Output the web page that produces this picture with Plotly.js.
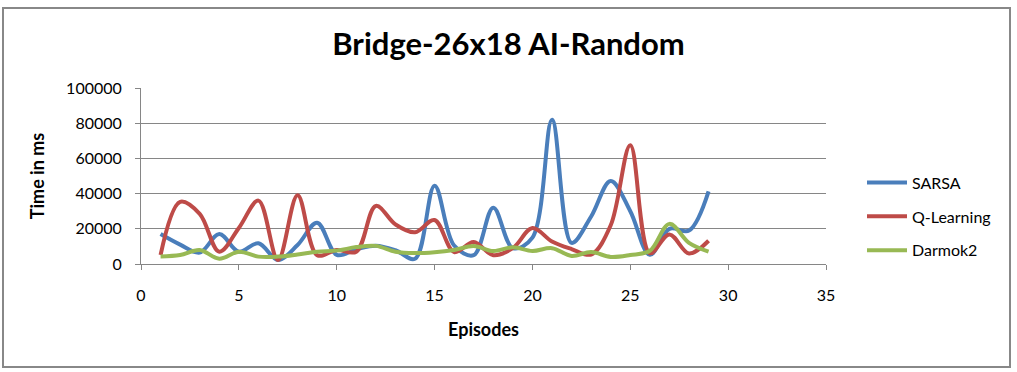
<!DOCTYPE html>
<html>
<head>
<meta charset="utf-8">
<script src="https://cdn.plot.ly/plotly-3.0.1.min.js"></script>
<style>
  html, body { margin: 0; padding: 0; background: #fff; }
  #chart { width: 1017px; height: 372px; }
</style>
</head>
<body>
<div id="chart"></div>
<script>
// Episode-by-episode run time (ms)
const episodes = [1,2,3,4,5,6,7,8,9,10,11,12,13,14,15,16,17,18,19,20,21,22,23,24,25,26,27,28,29];
const sarsa = [17000,11000,6500,17000,7000,11800,2300,10800,23500,5200,8300,10400,7800,3000,44500,10500,5000,32000,9000,15000,82000,12000,27000,47200,30000,5200,20000,19000,41300];
const qLearning = [5100,35300,28500,7000,20500,36000,2300,39000,5000,8000,7000,33000,22500,18000,25000,6800,12500,5000,9000,20400,12800,8500,5400,22000,67500,6100,16800,6000,13200];
const darmok2 = [4300,5100,8000,3000,7000,4200,4200,5400,7000,7600,9600,10300,7000,6200,6700,8000,10200,7400,9500,7400,9000,4600,6800,4000,5100,7500,22800,12000,7000];

const seriesNames = ["SARSA", "Q-Learning", "Darmok2"];
const seriesColors = ["#4A7EBB", "#BE4B48", "#98B954"];
const seriesValues = [sarsa, qLearning, darmok2];

const FONT = "Lato, Carlito, 'Liberation Sans', sans-serif";
const GRID = "#868686";

// one legend group per trace so tracegroupgap spaces the legend rows
const traces = seriesValues.map(function (ys, i) {
  return {
    x: episodes, y: ys, name: seriesNames[i], legendgroup: "g" + i,
    type: "scatter", mode: "lines",
    line: { color: seriesColors[i], width: 4, shape: "spline", smoothing: 1 }
  };
});

const layout = {
  width: 1017, height: 372,
  margin: { l: 141, r: 191, t: 88, b: 108 },
  paper_bgcolor: "#fff", plot_bgcolor: "#fff",
  font: { family: FONT, size: 16, color: "#000" },
  title: {
    text: "<b>Bridge-26x18 AI-Random</b>",
    font: { family: FONT, size: 31, color: "#000" },
    xref: "container", x: 0.5, xanchor: "center",
    yref: "container", y: 0.882, yanchor: "middle"
  },
  xaxis: {
    range: [0, 35], dtick: 5, tick0: 0,
    showgrid: false, zeroline: false,
    showline: true, linecolor: GRID, linewidth: 1,
    ticks: "outside", ticklen: 5, tickcolor: GRID,
    ticklabelstandoff: 12,
    tickfont: { family: FONT, size: 16 },
    title: { text: "<b>Episodes</b>", font: { family: FONT, size: 18 }, standoff: 20 }
  },
  yaxis: {
    range: [0, 100000], dtick: 20000, tick0: 0,
    showgrid: true, gridcolor: GRID, gridwidth: 1,
    zeroline: false,
    showline: true, linecolor: GRID, linewidth: 1,
    ticks: "outside", ticklen: 5, tickcolor: GRID,
    ticklabelstandoff: 10,
    tickformat: "d",
    tickfont: { family: FONT, size: 16 },
    title: { text: "<b>Time in ms</b>", font: { family: FONT, size: 18 }, standoff: 16 }
  },
  legend: {
    x: 862 / 1017, xref: "container", xanchor: "left",
    y: 0.269, yanchor: "middle",
    font: { family: FONT, size: 16 },
    tracegroupgap: 10, itemwidth: 40,
    bgcolor: "rgba(0,0,0,0)"
  },
  shapes: [{
    type: "rect", xref: "paper", yref: "paper",
    x0: (3 - 141) / 685, x1: (1010 - 141) / 685,
    y0: (264 - 367) / 176, y1: (264 - 8) / 176,
    line: { color: "#888", width: 2 }, fillcolor: "rgba(0,0,0,0)", layer: "below"
  }]
};

Plotly.newPlot("chart", traces, layout, { displayModeBar: false, staticPlot: true });
</script>
</body>
</html>
